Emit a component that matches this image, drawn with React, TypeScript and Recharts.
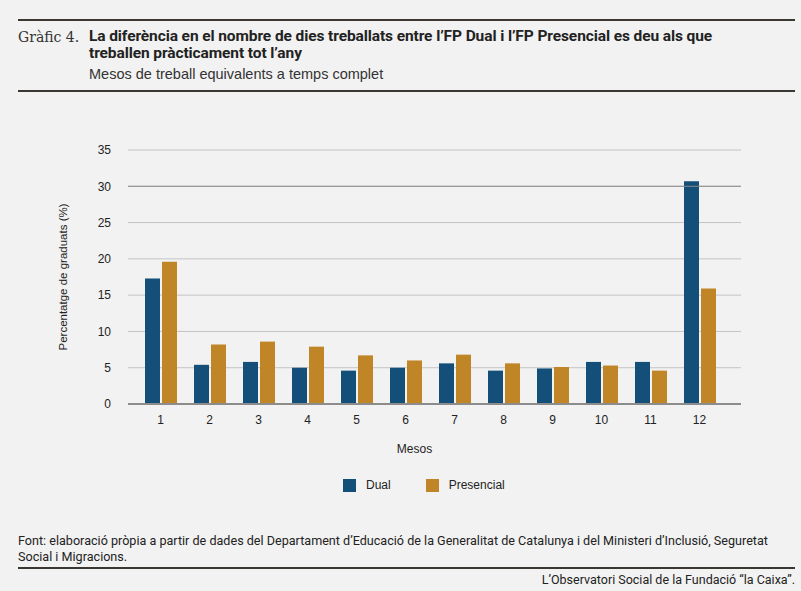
import { BarChart, Bar, XAxis, YAxis, CartesianGrid, ReferenceLine, Legend } from 'recharts'

const MONTHS = ['1', '2', '3', '4', '5', '6', '7', '8', '9', '10', '11', '12']
const DUAL = [17.3, 5.4, 5.8, 5.0, 4.6, 5.0, 5.6, 4.6, 4.9, 5.8, 5.8, 30.7]
const PRESENCIAL = [19.6, 8.2, 8.6, 7.9, 6.7, 6.0, 6.8, 5.6, 5.1, 5.3, 4.6, 15.9]
const Y_TICKS = [0, 5, 10, 15, 20, 25, 30, 35]

const COLORS = { dual: '#134f79', presencial: '#c08527' }
const SANS = '"Liberation Sans", Arial, sans-serif'
const COND = 'Roboto, "Liberation Sans", sans-serif'

const data = MONTHS.map((m, i) => ({ mes: m, dual: DUAL[i], presencial: PRESENCIAL[i] }))

function LegendContent() {
  const items = [
    { label: 'Dual', color: COLORS.dual },
    { label: 'Presencial', color: COLORS.presencial },
  ]
  return (
    <div style={{ display: 'flex', paddingLeft: 343, gap: 35, fontFamily: SANS, fontSize: 12, color: '#222' }}>
      {items.map((it) => (
        <div key={it.label} style={{ display: 'flex', alignItems: 'center' }}>
          <span style={{ width: 13, height: 13, background: it.color, display: 'inline-block', marginRight: 10 }} />
          <span>{it.label}</span>
        </div>
      ))}
    </div>
  )
}

export default function App() {
  return (
    <div style={{ position: 'absolute', left: 0, top: 0, width: 801, height: 591, background: '#f2f2f2', overflow: 'hidden', color: '#222' }}>
      <div style={{ position: 'absolute', left: 18, top: 19, width: 777, height: 2, background: '#3b3733' }} />
      <div style={{ position: 'absolute', left: 18, top: 29, fontFamily: '"DejaVu Serif", serif', fontSize: 14, color: '#333' }}>Gràfic 4.</div>
      <div style={{ position: 'absolute', left: 89, top: 28, width: 655, fontFamily: COND, fontWeight: 700, fontSize: 15.5, lineHeight: '17px', letterSpacing: -0.1, color: '#222' }}>
        La diferència en el nombre de dies treballats entre l’FP Dual i l’FP Presencial es deu als que treballen pràcticament tot l’any
      </div>
      <div style={{ position: 'absolute', left: 89, top: 66, fontFamily: SANS, fontSize: 14.5, color: '#333' }}>
        Mesos de treball equivalents a temps complet
      </div>
      <div style={{ position: 'absolute', left: 18, top: 90, width: 777, height: 2, background: '#3b3733' }} />

      <div style={{ position: 'absolute', left: 0, top: 0 }}>
        <BarChart width={801} height={591} data={data} margin={{ top: 150, right: 60, bottom: 137, left: 0 }} barSize={15} barGap={2}>
          <CartesianGrid vertical={false} stroke="#c4c4c4" />
          <XAxis
            dataKey="mes"
            height={30}
            padding={{ left: 8, right: 17 }}
            axisLine={false}
            tickLine={false}
            tickSize={6}
            tickMargin={5}
            tick={{ fontSize: 12, fill: '#222', fontFamily: SANS }}
            label={{ value: 'Mesos', position: 'bottom', offset: 10, dx: -20, fontSize: 12, fill: '#222', fontFamily: SANS }}
          />
          <YAxis
            width={128}
            domain={[0, 35]}
            ticks={Y_TICKS}
            axisLine={false}
            tickLine={false}
            tickSize={8}
            tickMargin={9}
            tick={{ fontSize: 12, fill: '#222', fontFamily: SANS }}
            label={{ value: 'Percentatge de graduats (%)', angle: -90, position: 'insideLeft', offset: 63, textAnchor: 'middle', fontSize: 11.5, fill: '#222', fontFamily: SANS }}
          />
          <ReferenceLine y={30} stroke="#8a8a8a" />
          <Bar dataKey="dual" name="Dual" fill={COLORS.dual} isAnimationActive={false} />
          <Bar dataKey="presencial" name="Presencial" fill={COLORS.presencial} isAnimationActive={false} />
          <ReferenceLine y={0} stroke="#8c8c8c" strokeWidth={2} />
          <Legend verticalAlign="bottom" height={20} wrapperStyle={{ top: 478 }} content={() => <LegendContent />} />
        </BarChart>
      </div>

      <div style={{ position: 'absolute', left: 18, top: 533, width: 775, fontFamily: COND, fontSize: 12.6, lineHeight: '16px', color: '#222' }}>
        Font: elaboració pròpia a partir de dades del Departament d’Educació de la Generalitat de Catalunya i del Ministeri d’Inclusió, Seguretat Social i Migracions.
      </div>
      <div style={{ position: 'absolute', left: 18, top: 567, width: 777, height: 2, background: '#3b3733' }} />
      <div style={{ position: 'absolute', right: 6, top: 572, fontFamily: COND, fontSize: 12.5, color: '#222' }}>
        L’Observatori Social de la Fundació “la Caixa”.
      </div>
    </div>
  )
}
